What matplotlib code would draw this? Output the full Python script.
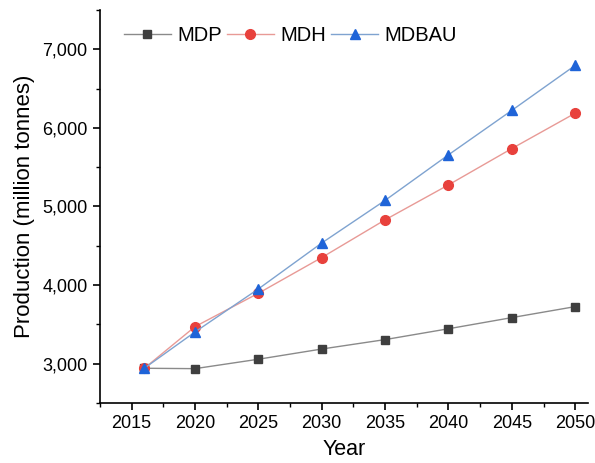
import numpy as np
import matplotlib.pyplot as plt
from matplotlib.ticker import MultipleLocator, FuncFormatter

plt.rcParams['font.family'] = ['Liberation Sans', 'DejaVu Sans']

years = [2016, 2020, 2025, 2030, 2035, 2040, 2045, 2050]
mdp = [2940, 2935, 3055, 3185, 3305, 3443, 3585, 3725]
mdh = [2940, 3470, 3895, 4350, 4830, 5275, 5738, 6188]
mdbau = [2940, 3402, 3950, 4535, 5078, 5658, 6224, 6797]

series = [
    ("MDP", mdp, "s", "#3f3f3f", "#8a8a8a", 6),
    ("MDH", mdh, "o", "#e8413c", "#e89a96", 7),
    ("MDBAU", mdbau, "^", "#1f64d8", "#7fa3d0", 7.5),
]

fig = plt.figure(figsize=(5.95, 4.63), dpi=100)
ax = fig.add_axes([0.168, 0.13, 0.82, 0.848])

for name, vals, mk, mcol, lcol, ms in series:
    ax.plot(years, vals, color=lcol, linewidth=1.0, marker=mk, markersize=ms,
            markerfacecolor=mcol, markeredgecolor=mcol, label=name)

ax.set_xlim(2012.5, 2051)
ax.set_ylim(2500, 7500)
ax.xaxis.set_major_locator(MultipleLocator(5))
ax.xaxis.set_minor_locator(MultipleLocator(2.5))
ax.yaxis.set_major_locator(MultipleLocator(1000))
ax.yaxis.set_minor_locator(MultipleLocator(500))
ax.yaxis.set_major_formatter(FuncFormatter(lambda v, p: f"{int(v):,}"))

for s in ("top", "right"):
    ax.spines[s].set_visible(False)
for s in ("left", "bottom"):
    ax.spines[s].set_linewidth(1.2)

ax.tick_params(which="major", direction="out", length=5, width=1.2, labelsize=13, pad=4)
ax.tick_params(which="minor", direction="out", length=3, width=1.0)

ax.set_xlabel("Year", fontsize=15.5, labelpad=5)
ax.set_ylabel("Production (million tonnes)", fontsize=16, labelpad=5)

ax.legend(loc="upper left", ncol=3, frameon=False, fontsize=14.5,
          handlelength=2.3, handletextpad=0.35, columnspacing=0.25,
          bbox_to_anchor=(0.025, 0.99), borderaxespad=0.2)

fig.savefig("out.png", dpi=100)
